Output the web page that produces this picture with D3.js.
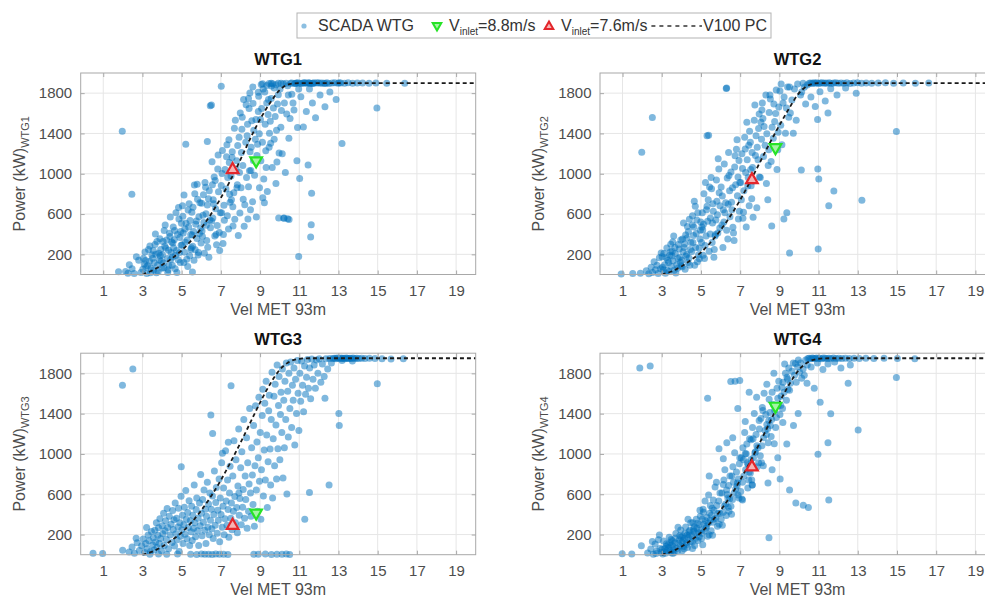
<!DOCTYPE html>
<html>
<head>
<meta charset="utf-8">
<script src="https://cdn.jsdelivr.net/npm/d3@7"></script>
<style>
  html, body { margin: 0; padding: 0; background: #fff; overflow: hidden; }
  svg { display: block; font-family: "Liberation Sans", Arial, Helvetica, sans-serif; }
</style>
</head>
<body>
<svg id="chart" width="985" height="601"></svg>
<script>
// ---- axes ----
const speedTicks = [1, 3, 5, 7, 9, 11, 13, 15, 17, 19];
const powerTicks = [200, 600, 1000, 1400, 1800];
const turbines = ["WTG1", "WTG2", "WTG3", "WTG4"];

// ---- V100 reference power curve as drawn in each panel (kW vs m/s) ----
const pcSpeed  = [3, 3.5, 4, 4.5, 5, 5.5, 6, 6.5, 7, 7.5, 8, 8.5, 9, 9.5, 10, 10.5, 11, 11.5, 12, 13, 14, 15, 16, 17, 18, 19, 20];
const pcPower1 = [0, 40, 95, 160, 240, 340, 460, 600, 760, 940, 1140, 1350, 1540, 1700, 1830, 1890, 1900, 1900, 1900, 1900, 1900, 1900, 1900, 1900, 1900, 1900, 1900];
const pcPower2 = [0, 30, 80, 145, 220, 320, 440, 580, 740, 920, 1110, 1300, 1480, 1650, 1800, 1880, 1900, 1900, 1900, 1900, 1900, 1900, 1900, 1900, 1900, 1900, 1900];
const pcPower34 = [0, 30, 80, 145, 220, 320, 440, 580, 740, 920, 1110, 1310, 1510, 1690, 1835, 1915, 1945, 1950, 1950, 1950, 1950, 1950, 1950, 1950, 1950, 1950, 1950];

// ---- inlet-speed operating points, one per turbine ----
const inletHigh = 8.8;   // green marker
const inletLow  = 7.6;   // red marker
const powerAtHigh = [1130, 1260, 415, 1475];
const powerAtLow  = [1050, 950, 300, 880];

// ---- SCADA samples [wind speed m/s, power kW] ----
const wtg1 = [
[2.14,31],[2.58,9],[2.33,97],[2.81,142],[2.47,58],[2.92,19],[2.69,176],[2.26,12],
[3.27,88],[3.05,161],[3.41,17],[3.13,224],[3.36,132],[3.02,52],[3.48,196],[3.19,71],[3.31,247],[3.09,104],[3.44,61],[3.22,9],[3.38,283],[3.16,138],
[3.83,212],[3.57,44],[3.96,131],[3.64,297],[3.71,18],[3.89,356],[3.52,162],[3.77,92],[3.93,248],[3.6,117],[3.68,201],[3.99,62],[3.74,327],[3.86,144],[3.55,238],[3.8,28],[3.66,402],[3.91,187],
[4.23,342],[4.07,113],[4.46,218],[4.31,47],[4.14,281],[4.38,409],[4.02,196],[4.27,158],[4.49,322],[4.11,436],[4.35,86],[4.19,262],[4.42,571],[4.05,328],[4.29,19],[4.44,149],[4.16,492],[4.33,241],[4.09,67],[4.4,376],
[4.74,238],[4.57,472],[4.93,119],[4.62,346],[4.86,551],[4.53,173],[4.79,398],[4.67,58],[4.97,291],[4.71,612],[4.55,312],[4.89,217],[4.64,437],[4.82,146],[4.99,508],[4.59,263],[4.76,21],[4.91,367],[4.69,188],[4.84,664],[4.52,92],[4.95,428],
[5.28,342],[5.06,578],[5.41,187],[5.17,452],[5.49,266],[5.11,118],[5.33,641],[5.02,294],[5.22,508],[5.46,398],[5.14,221],[5.38,702],[5.08,412],[5.26,152],[5.43,536],[5.19,319],[5.31,79],[5.04,682],[5.36,471],[5.47,248],[5.21,1294],[5.12,788],
[5.72,498],[5.56,281],[5.93,712],[5.61,427],[5.84,193],[5.52,618],[5.78,358],[5.67,801],[5.97,462],[5.63,141],[5.88,573],[5.54,392],[5.81,746],[5.69,246],[5.91,407],[5.58,667],[5.75,532],[5.99,312],[5.65,889],[5.86,219],[5.79,896],[5.55,24],
[6.24,602],[6.06,378],[6.41,832],[6.13,517],[6.33,271],[6.02,706],[6.47,463],[6.19,914],[6.28,338],[6.09,588],[6.37,751],[6.16,212],[6.44,541],[6.22,867],[6.04,431],[6.31,689],[6.39,172],[6.11,792],[6.26,488],[6.31,1321],
[6.73,652],[6.57,891],[6.92,418],[6.61,742],[6.84,1046],[6.53,532],[6.78,296],[6.66,968],[6.97,612],[6.69,381],[6.88,822],[6.55,1118],[6.81,487],[6.63,703],[6.94,239],[6.71,934],[6.59,561],[6.86,1187],[6.76,398],[6.52,1683],
[7.26,848],[7.04,612],[7.43,1112],[7.13,397],[7.35,962],[7.08,1231],[7.47,718],[7.18,538],[7.31,1287],[7.02,883],[7.39,452],[7.21,1042],[7.45,796],[7.11,308],[7.29,1168],[7.16,688],[7.41,1338],[7.06,1002],[7.33,583],[7.02,1868],
[7.78,1048],[7.54,742],[7.93,1362],[7.62,482],[7.84,892],[7.58,1218],[7.97,611],[7.69,1452],[7.81,1128],[7.52,978],[7.89,388],[7.66,812],[7.74,1532],[7.95,1012],[7.61,672],[7.86,1281],[7.71,549],[7.99,1602],[7.57,1161],[7.82,862],
[8.27,1312],[8.03,862],[8.44,1648],[8.12,1082],[8.38,552],[8.07,1442],[8.31,963],[8.49,1219],[8.16,1738],[8.22,692],[8.46,1031],[8.09,1562],[8.34,1378],[8.19,478],[8.41,872],[8.05,1212],[8.29,1684],[8.14,747],[8.36,1492],[8.48,1802],
[8.76,1342],[8.53,1032],[8.91,1618],[8.62,722],[8.84,1182],[8.58,1526],[8.97,862],[8.68,1432],[8.81,571],[8.55,1262],[8.93,1768],[8.72,984],[8.64,1698],[8.87,1292],[8.51,642],[8.79,1538],[8.66,1132],[8.96,1397],
[9.26,1492],[9.04,1128],[9.43,1738],[9.12,1312],[9.37,823],[9.08,1648],[9.31,1061],[9.48,1402],[9.16,1842],[9.22,712],[9.46,1262],[9.02,1538],[9.34,1702],[9.19,948],[9.41,1589],[9.06,1886],[9.29,1228],[9.14,762],
[9.77,1568],[9.54,1302],[9.93,1783],[9.62,1062],[9.84,1432],[9.58,1871],[9.97,1207],[9.68,1652],[9.81,902],[9.52,1521],[9.89,1692],[9.72,1342],[9.64,1893],[9.86,1117],[9.57,1748],[9.95,562],
[10.24,1702],[10.06,1462],[10.41,1873],[10.13,1198],[10.36,1592],[10.02,1842],[10.47,1352],[10.18,1894],[10.29,1012],[10.09,1628],[10.44,1781],[10.21,558],[10.33,1898],[10.48,546],
[10.73,1632],[10.56,1899],[10.91,1458],[10.62,1788],[10.84,1901],[10.53,1548],[10.97,1842],[10.68,1702],[10.88,1128],[10.77,1897],
[8.63,1862],[8.91,1808],[9.13,1893],[9.34,1876],[9.57,1898],[9.72,1852],[9.93,1899],[8.41,1748],[9.46,1896],[9.81,1884],[10.07,1899],[9.24,1812],
[11.03,1899],[11.19,1901],[11.11,1896],[11.26,1903],[11.38,1898],[11.31,1900],[11.47,1902],[11.58,1897],[11.52,1901],[11.67,1899],[11.76,1903],[11.71,1896],[11.89,1900],[11.97,1902],[12.08,1898],[12.16,1901],[12.27,1899],[12.41,1903],[12.52,1897],[12.68,1900],[12.81,1902],[12.97,1898],[13.12,1901],[13.31,1899],[13.49,1902],[13.72,1898],[13.96,1900],[14.23,1901],[14.56,1899],[14.91,1900],[15.46,1898],[16.38,1899],[10.62,1900],[10.81,1897],[10.93,1903],[12.33,1896],[13.04,1902],
[11.08,1764],[11.36,1618],[11.52,1842],[11.67,1703],[11.83,1557],[12.06,1781],[12.31,1664],[12.56,1812],[12.88,1738],[11.21,1463],[11.45,1087],[11.02,952],
[1.97,1422],[2.46,796],[14.96,1652],[13.18,1301],[10.97,178],[11.58,372],[11.61,493],[11.63,806],[6.46,1676],[1.78,28],[10.41,553],[10.22,561]
];

const wtg2 = [
[2.68,47],[2.21,38],[2.94,58],[2.46,71],[2.82,11],[2.61,126],[2.97,214],[2.34,8],[2.76,93],[2.53,19],[2.88,167],[0.93,6],[1.52,9],[1.91,12],
[3.31,142],[3.07,48],[3.44,227],[3.15,96],[3.38,31],[3.02,176],[3.26,264],[3.49,82],[3.11,208],[3.35,118],[3.19,12],[3.46,301],[3.23,167],[3.04,71],[3.41,192],[3.28,39],
[3.77,98],[3.54,231],[3.92,172],[3.63,42],[3.85,297],[3.58,136],[3.97,342],[3.69,208],[3.81,61],[3.52,184],[3.89,254],[3.72,14],[3.95,121],[3.61,381],[3.83,158],[3.67,267],[3.99,87],[3.56,322],
[4.27,198],[4.06,352],[4.43,91],[4.14,268],[4.36,427],[4.03,142],[4.48,318],[4.19,52],[4.31,476],[4.09,227],[4.39,163],[4.22,392],[4.46,247],[4.11,512],[4.34,118],[4.17,302],[4.41,548],[4.04,76],[4.29,362],[4.24,182],
[4.73,268],[4.56,492],[4.92,156],[4.62,387],[4.84,612],[4.53,228],[4.97,438],[4.68,91],[4.79,542],[4.59,318],[4.88,196],[4.71,678],[4.95,352],[4.64,471],[4.82,127],[4.57,582],[4.91,264],[4.76,408],[4.66,726],[4.99,522],
[5.26,382],[5.07,612],[5.42,231],[5.13,498],[5.37,742],[5.03,318],[5.48,562],[5.18,158],[5.31,678],[5.09,442],[5.44,868],[5.21,288],[5.34,528],[5.15,802],[5.47,402],[5.11,192],[5.39,1383],[5.28,642],[5.05,472],[5.23,912],
[5.76,542],[5.57,318],[5.93,812],[5.63,628],[5.86,412],[5.52,962],[5.97,682],[5.68,248],[5.81,728],[5.59,512],[5.91,1048],[5.72,382],[5.54,852],[5.84,592],[5.66,172],[5.96,462],[5.79,938],[5.61,702],[5.88,1148],[5.74,398],
[6.26,712],[6.07,492],[6.43,982],[6.14,642],[6.37,352],[6.03,868],[6.48,572],[6.19,1098],[6.31,438],[6.09,778],[6.41,1212],[6.22,612],[6.46,832],[6.12,268],[6.34,958],[6.29,1847],[6.17,522],[6.39,698],
[6.77,892],[6.58,642],[6.94,1132],[6.63,468],[6.86,782],[6.53,1018],[6.98,912],[6.69,338],[6.81,1242],[6.56,718],[6.91,552],[6.72,1068],[6.84,1338],[6.61,862],[6.96,628],[6.74,1178],[6.66,412],[6.89,968],
[7.28,1012],[7.06,742],[7.44,1282],[7.14,558],[7.36,1138],[7.03,912],[7.48,1422],[7.19,832],[7.31,472],[7.09,1198],[7.41,962],[7.23,1362],[7.46,682],[7.12,1052],[7.34,1512],[7.17,618],[7.39,878],[7.26,1246],
[7.78,1182],[7.56,882],[7.94,1448],[7.63,1062],[7.85,662],[7.52,1312],[7.97,1592],[7.68,928],[7.81,1378],[7.59,752],[7.91,1138],[7.72,1532],[7.54,1042],[7.87,1262],[7.66,568],[7.98,968],[7.75,1682],[7.61,1212],
[8.27,1282],[8.06,1512],[8.43,1082],[8.13,1702],[8.36,1398],[8.03,962],[8.48,1608],[8.19,1172],[8.31,1782],[8.09,1342],[8.41,742],[8.22,1468],[8.46,1238],[8.11,1632],[8.34,902],[8.16,1548],
[8.76,1518],[8.54,1742],[8.92,1238],[8.63,1462],[8.84,1832],[8.58,1122],[8.97,1662],[8.69,1352],[8.81,1598],[8.52,1782],[8.88,1042],[8.72,1692],[8.94,1412],[8.61,482],
[9.24,1762],[9.07,1482],[9.42,1862],[9.13,1288],[9.36,1652],[9.03,1822],[9.48,1562],[9.19,1702],[9.31,1402],[9.09,1892],[9.23,552],[9.38,612],
[9.77,1842],[9.56,1602],[9.93,1892],[9.64,1732],[9.86,1532],[9.52,1862],[10.08,1782],[10.21,1898],[10.34,1692],[10.42,1882],[10.14,1812],[9.71,1402],[10.12,1036],[10.27,1858],
[10.52,1898],[10.6,1901],[10.68,1897],[10.76,1903],[10.84,1899],[10.92,1902],[11.01,1896],[11.09,1900],[11.18,1903],[11.27,1898],[11.36,1901],[11.45,1899],[11.55,1902],[11.66,1897],[11.77,1900],[11.88,1903],[12.01,1898],[12.15,1901],[12.29,1899],[12.44,1902],[12.61,1897],[12.79,1900],[12.98,1903],[13.19,1898],[13.43,1901],[13.71,1899],[14.04,1900],[14.41,1902],[14.83,1898],[15.32,1900],[15.94,1899],[16.62,1901],
[10.61,1762],[10.83,1668],[11.07,1814],[11.34,1722],[11.62,1843],[11.94,1781],[12.38,1852],[12.92,1798],[11.48,1602],[10.95,1539],
[2.52,1558],[1.98,1213],[5.31,1378],[6.31,1852],[14.97,1419],[13.21,738],[10.98,252],[11.52,683],[11.78,829],[10.96,1048],[11.01,948],[9.52,213]
];

const wtg3 = [
[0.48,14],[0.97,11],[1.99,44],[3.38,5],[3.82,7],[4.24,4],[4.79,6],[5.46,4],[5.77,3],[6.01,6],[6.18,4],[6.37,5],[6.56,3],[6.74,6],[6.93,4],[7.14,5],[7.36,3],[8.68,5],[8.91,4],[9.27,6],[9.58,3],[9.86,5],[10.12,4],[10.34,6],[10.51,3],
[2.84,41],[2.32,28],[3.17,112],[2.59,14],[3.41,32],[2.96,88],[3.29,196],[2.47,76],[3.11,23],[2.73,118],[3.46,231],[3.04,157],[3.23,58],[2.68,163],[3.34,138],[3.21,271],
[3.89,356],[3.56,168],[4.29,271],[3.74,71],[4.11,91],[3.63,242],[4.37,382],[3.97,38],[4.18,336],[3.52,97],[4.04,208],[3.82,268],[4.46,302],[3.67,126],[4.26,458],[3.93,162],[4.08,412],[3.59,46],[4.33,58],[3.78,192],[4.15,238],[3.71,318],[4.41,196],[3.86,112],[4.22,152],[4.01,287],
[4.97,581],[4.54,438],[5.27,158],[4.71,207],[5.11,298],[4.61,348],[5.38,536],[4.87,31],[5.17,204],[4.51,122],[5.04,392],[4.81,276],[5.44,338],[4.64,86],[5.24,352],[4.94,183],[5.07,112],[4.57,251],[5.34,271],[4.77,148],[5.14,472],[4.67,512],[5.48,227],[4.91,318],[5.21,638],[4.74,362],[5.01,247],[5.41,92],[4.84,462],[5.31,418],
[6.11,322],[5.54,142],[5.97,796],[6.34,272],[5.71,178],[6.21,452],[5.61,262],[6.44,612],[5.84,362],[6.04,187],[5.51,482],[6.27,382],[5.77,563],[6.14,642],[5.64,692],[6.41,198],[5.91,512],[6.17,243],[5.57,391],[6.37,502],[5.81,238],[6.07,548],[5.67,318],[6.47,342],[5.94,288],[6.24,112],[5.74,448],[6.31,718],[5.87,92],[6.01,412],[6.49,1386],[6.58,1204],
[7.04,912],[6.54,258],[7.31,292],[6.77,668],[7.14,662],[6.61,162],[7.44,612],[6.91,752],[7.21,358],[6.67,832],[7.01,398],[6.84,442],[7.37,448],[6.51,452],[7.11,482],[6.94,128],[7.27,532],[6.71,292],[7.47,878],[6.81,212],[7.17,198],[6.57,582],[7.34,742],[6.97,562],[7.24,1032],[6.64,398],[7.41,172],[6.87,342],[7.07,272],[6.74,518],[7.08,1008],[7.38,1116],
[8.07,1022],[7.54,512],[8.31,1162],[7.77,942],[8.14,648],[7.61,782],[8.44,702],[7.94,392],[8.21,362],[7.67,1132],[8.01,862],[7.84,218],[8.37,912],[7.51,362],[8.11,472],[7.97,558],[8.27,548],[7.71,578],[8.47,1452],[7.81,468],[8.17,1342],[7.57,248],[8.34,262],[7.91,1248],[8.24,782],[7.64,432],[8.41,432],[7.87,682],[8.04,298],[7.74,318],[7.52,1678],[7.92,612],
[9.07,842],[8.54,382],[9.31,1722],[8.77,1478],[9.14,1642],[8.61,792],[9.44,1428],[8.91,962],[9.21,1038],[8.67,1282],[9.01,1212],[8.84,1118],[9.37,468],[8.51,612],[9.11,1382],[8.94,1562],[9.27,742],[8.71,282],[9.47,1582],[8.81,642],[9.17,582],[8.57,1062],[9.34,1188],[8.97,728],[9.24,1502],[8.64,498],[9.41,922],[8.87,432],[9.04,352],[8.74,882],
[10.07,1612],[9.54,692],[10.31,1342],[9.77,1692],[10.14,1842],[9.61,1812],[10.44,1168],[9.91,1052],[10.21,1532],[9.67,1152],[10.01,942],[9.84,752],[10.37,602],[9.51,1048],[10.11,1212],[9.94,1482],[10.27,1722],[9.71,1572],[10.47,1802],[9.81,1288],[10.17,762],[9.57,1342],[10.34,1902],[9.97,1768],[10.24,1062],[9.64,562],[10.41,1622],[9.87,1882],[10.04,1392],[9.74,882],
[10.94,1602],[10.52,1452],[11.22,1418],[10.69,1532],[11.07,1522],[10.56,1912],[11.37,1762],[10.81,1742],[11.17,1682],[10.61,1262],[10.98,1232],[11.32,1592],[10.73,1852],[11.12,1922],[10.86,1402],[11.47,1652],[10.65,1682],[11.03,1802],[10.9,1928],[11.27,1872],[10.77,1088],[11.42,1938],
[11.95,1802],[11.53,1852],[12.27,1768],[11.7,1742],[12.1,1712],[11.58,1548],[12.45,1842],[11.82,1652],[12.18,1892],[11.64,1942],[12.02,1946],[11.88,1932],[12.36,1944],[11.76,1882],[12.55,1948],[12.64,1902],
[12.71,1948],[12.79,1951],[12.86,1946],[12.93,1952],[13.01,1949],[13.08,1947],[13.14,1952],[13.21,1948],[13.27,1950],[13.33,1946],[13.39,1952],[13.45,1949],[13.52,1947],[13.59,1951],[13.66,1948],[13.74,1952],[13.83,1947],[13.93,1950],[14.04,1948],[14.18,1951],[14.35,1947],[14.58,1950],[14.86,1948],[15.22,1944],[15.68,1942],[16.31,1946],[13.18,1928],[13.71,1922],
[1.98,1682],[2.51,1842],[12.52,692],[11.28,352],[11.52,618],[14.98,1698],[13.02,1402],[13.04,1282],[12.31,1552],[4.98,872]
];

const wtg4 = [
[2.44,57],[0.98,9],[2.83,148],[2.28,18],[2.66,107],[1.47,6],[2.91,62],[2.57,4],[1.96,88],[2.74,36],[2.97,21],[2.52,132],[2.88,196],[2.71,12],
[3.27,42],[3.05,8],[3.41,118],[3.13,27],[3.36,71],[3.02,53],[3.48,152],[3.19,14],[3.31,96],[3.09,136],[3.44,38],[3.22,82],[3.38,172],[3.16,61],[3.46,22],[3.24,109],
[3.77,62],[3.54,138],[3.92,187],[3.63,21],[3.85,112],[3.58,78],[3.97,246],[3.69,164],[3.81,38],[3.52,96],[3.89,148],[3.72,211],[3.95,86],[3.61,52],[3.83,272],[3.67,119],[3.99,174],[3.56,12],
[4.27,102],[4.06,186],[4.43,242],[4.14,58],[4.36,168],[4.03,124],[4.48,318],[4.19,212],[4.31,72],[4.09,142],[4.41,196],[4.22,276],[4.46,128],[4.11,82],[4.34,352],[4.17,161],[4.39,228],[4.04,38],[4.29,192],[4.24,118],
[4.73,212],[4.56,128],[4.92,298],[4.62,252],[4.84,142],[4.53,188],[4.97,382],[4.68,92],[4.79,262],[4.59,318],[4.88,218],[4.71,162],[4.95,442],[4.64,232],[4.82,312],[4.57,62],[4.91,178],[4.76,352],[4.66,278],[4.99,248],
[5.26,262],[5.07,352],[5.42,198],[5.13,422],[5.37,312],[5.03,162],[5.48,488],[5.18,238],[5.31,368],[5.09,98],[5.44,412],[5.21,532],[5.34,182],[5.15,302],[5.47,342],[5.11,452],[5.28,282],[5.05,212],[5.39,592],[5.23,338],
[5.76,362],[5.57,462],[5.93,302],[5.63,542],[5.86,412],[5.52,238],[5.97,612],[5.68,352],[5.81,488],[5.59,192],[5.91,532],[5.72,672],[5.54,392],[5.84,282],[5.66,442],[5.96,412],[5.79,718],[5.61,322],
[6.26,502],[6.07,612],[6.43,432],[6.14,698],[6.37,562],[6.03,352],[6.48,782],[6.19,482],[6.31,642],[6.09,292],[6.41,688],[6.22,842],[6.46,552],[6.12,418],[6.34,598],[6.17,742],[6.39,472],[6.29,388],
[6.77,652],[6.58,782],[6.94,562],[6.63,872],[6.86,712],[6.53,482],[6.98,962],[6.69,612],[6.81,822],[6.56,402],[6.91,752],[6.72,1012],[6.84,682],[6.61,548],[6.96,902],[6.74,1722],[6.66,718],[6.89,592],
[7.28,842],[7.06,962],[7.44,742],[7.14,1062],[7.36,912],[7.03,628],[7.48,1152],[7.19,782],[7.31,1002],[7.09,552],[7.41,892],[7.23,1212],[7.46,822],[7.12,718],[7.34,1098],[7.17,942],[7.39,662],[7.26,1002],
[7.78,1022],[7.56,1142],[7.94,912],[7.63,1262],[7.85,1082],[7.52,812],[7.97,1332],[7.68,962],[7.81,1192],[7.59,742],[7.91,1062],[7.72,1402],[7.54,942],[7.87,872],[7.66,1152],[7.98,1248],[7.75,1012],[7.61,692],
[8.27,1232],[8.06,1352],[8.43,1112],[8.13,1462],[8.36,1292],[8.03,982],[8.48,1542],[8.19,1162],[8.31,1392],[8.09,912],[8.41,1252],[8.22,1602],[8.46,1332],[8.11,1082],[8.34,1192],[8.16,1432],
[8.76,1432],[8.54,1282],[8.92,1552],[8.63,1612],[8.84,1362],[8.58,1172],[8.97,1722],[8.69,1492],[8.81,1262],[8.52,1412],[8.88,1652],[8.72,1802],[8.94,1482],[8.61,1342],
[9.24,1612],[9.07,1482],[9.42,1742],[9.13,1662],[9.36,1532],[9.03,1392],[9.48,1852],[9.19,1712],[9.31,1802],[9.09,1572],[9.44,1642],[9.27,1892],[9.16,1452],[9.39,1762],
[9.77,1782],[9.56,1702],[9.93,1862],[9.64,1822],[9.86,1712],[9.52,1632],[10.08,1902],[10.21,1842],[10.34,1932],[10.42,1882],[10.14,1752],[9.71,1902],[9.97,1932],[10.27,1782],[9.82,1898],[10.03,1812],
[10.45,1948],[10.52,1951],[10.6,1946],[10.67,1952],[10.74,1949],[10.82,1947],[10.9,1952],[10.98,1948],[11.06,1950],[11.15,1946],[11.24,1952],[11.33,1949],[11.43,1947],[11.53,1951],[11.64,1948],[11.76,1952],[11.89,1947],[12.03,1950],[12.19,1948],[12.37,1951],[12.57,1947],[12.81,1950],[13.08,1948],[13.41,1951],[13.82,1947],[14.34,1950],[15.02,1948],[15.91,1946],
[10.62,1862],[10.94,1902],[11.22,1838],[11.48,1892],[11.82,1912],[12.14,1852],[12.62,1882],[10.41,1702],[10.78,1652],[11.08,1512],[9.96,1402],[9.72,1282],[9.38,1098],[8.92,962],
[8.42,712],[8.63,842],[9.04,752],[9.52,642],[9.84,512],[10.22,492],[10.48,468],[8.18,882],[7.62,692],[7.12,542],[6.32,1112],[6.88,1452],[7.46,1612],[5.92,1052],[6.62,1162],[7.26,1322],[7.84,1562],[5.42,782],[6.14,952],[8.36,1692],[8.74,1102],[9.18,1312],
[1.88,1852],[2.41,1872],[5.34,1552],[6.52,1718],[6.98,1728],[14.97,1758],[13.02,1238],[11.48,1112],[10.97,998],[11.52,542],[8.47,168],[12.51,1702],[11.62,1398]
];

const scada = [wtg1, wtg2, wtg3, wtg4];
const curves = [pcPower1, pcPower2, pcPower34, pcPower34];

// ---- drawing ----
const svg = d3.select("#chart");
const W = 395, H = 201.5;
const origins = [[80.7, 73], [600, 73], [80.7, 353.2], [600, 353.2]];

const x = d3.scaleLinear().domain([-0.15, 20]).range([0, W]);
const y = d3.scaleLinear().domain([0, 2000]).range([H, 0]);

const dotColor = "#0072BD";
const textColor = "#4d4d4d";
const redStroke = "#e3262b", redFill = "#f6b3b5";
const greenStroke = "#27e327", greenFill = "#a4f5a4";

const tri = d3.symbol().type(d3.symbolTriangle).size(58);
const triSmall = d3.symbol().type(d3.symbolTriangle).size(32);

turbines.forEach((name, i) => {
  const [ox, oy] = origins[i];
  const g = svg.append("g").attr("transform", `translate(${ox},${oy})`);

  // background + grid
  g.append("rect").attr("width", W).attr("height", H).attr("fill", "#fff");
  g.append("g").selectAll("line").data(speedTicks).join("line")
    .attr("x1", d => x(d)).attr("x2", d => x(d)).attr("y1", 0).attr("y2", H)
    .attr("stroke", "#e6e6e6").attr("stroke-width", 1);
  g.append("g").selectAll("line").data(powerTicks).join("line")
    .attr("y1", d => y(d)).attr("y2", d => y(d)).attr("x1", 0).attr("x2", W)
    .attr("stroke", "#e6e6e6").attr("stroke-width", 1);

  // SCADA scatter
  g.append("g").selectAll("circle").data(scada[i]).join("circle")
    .attr("cx", d => x(d[0])).attr("cy", d => y(d[1])).attr("r", 3.5)
    .attr("fill", dotColor).attr("fill-opacity", 0.5);

  // reference power curve
  const line = d3.line().x((d, k) => x(pcSpeed[k])).y(d => y(d)).curve(d3.curveMonotoneX);
  g.append("path").datum(curves[i]).attr("d", line)
    .attr("fill", "none").attr("stroke", "#1a1a1a").attr("stroke-width", 1.8)
    .attr("stroke-dasharray", "4,3");

  // operating points
  g.append("path").attr("d", tri)
    .attr("transform", `translate(${x(inletHigh)},${y(powerAtHigh[i])}) rotate(180)`)
    .attr("fill", greenFill).attr("stroke", greenStroke).attr("stroke-width", 2.2);
  g.append("path").attr("d", tri)
    .attr("transform", `translate(${x(inletLow)},${y(powerAtLow[i]) + 1})`)
    .attr("fill", redFill).attr("stroke", redStroke).attr("stroke-width", 2.2);

  // frame
  g.append("rect").attr("width", W).attr("height", H)
    .attr("fill", "none").attr("stroke", "#a8a8a8").attr("stroke-width", 1);

  // axes with inward ticks
  const xa = g.append("g").attr("transform", `translate(0,${H})`)
    .call(d3.axisBottom(x).tickValues(speedTicks).tickSize(-4).tickPadding(10.5).tickFormat(d3.format("d")));
  const xt = g.append("g")
    .call(d3.axisTop(x).tickValues(speedTicks).tickSize(-4).tickFormat(""));
  const ya = g.append("g")
    .call(d3.axisLeft(y).tickValues(powerTicks).tickSize(-4).tickPadding(8.5).tickFormat(d3.format("d")));
  const yr = g.append("g").attr("transform", `translate(${W},0)`)
    .call(d3.axisRight(y).tickValues(powerTicks).tickSize(-4).tickFormat(""));
  [xa, xt, ya, yr].forEach(a => {
    a.select(".domain").remove();
    a.selectAll(".tick line").attr("stroke", "#a8a8a8");
    a.selectAll(".tick text").attr("fill", textColor)
      .style("font-size", "15px").style("font-family", '"Liberation Sans", Arial, sans-serif');
  });

  // title
  g.append("text").attr("x", W / 2).attr("y", -8).attr("text-anchor", "middle")
    .style("font-size", "16.5px").style("font-weight", "bold").attr("fill", "#111").text(name);

  // x label
  g.append("text").attr("x", W / 2).attr("y", H + 40).attr("text-anchor", "middle")
    .style("font-size", "16px").attr("fill", textColor).text("Vel MET 93m");

  // y label with subscript
  const yl = g.append("text").attr("transform", `translate(-56,${H / 2}) rotate(-90)`)
    .attr("text-anchor", "middle").style("font-size", "16px").attr("fill", textColor);
  yl.append("tspan").text("Power (kW)");
  yl.append("tspan").attr("dy", 4).style("font-size", "11px").text(name);
});

// ---- legend ----
const lg = svg.append("g");
lg.append("rect").attr("x", 297).attr("y", 13).attr("width", 474).attr("height", 25)
  .attr("fill", "#fff").attr("stroke", "#b3b3b3").attr("stroke-width", 1);
const ly = 31;
lg.append("circle").attr("cx", 304).attr("cy", 26).attr("r", 2.6).attr("fill", dotColor).attr("fill-opacity", 0.45);
lg.append("text").attr("x", 318).attr("y", ly).style("font-size", "16px").attr("fill", "#333").text("SCADA WTG");

lg.append("path").attr("d", triSmall).attr("transform", "translate(437,25.5) rotate(180)")
  .attr("fill", greenFill).attr("stroke", greenStroke).attr("stroke-width", 2);
const t1 = lg.append("text").attr("x", 449).attr("y", ly).style("font-size", "16px").attr("fill", "#333");
t1.append("tspan").text("V");
t1.append("tspan").attr("dy", 4).style("font-size", "10px").text("inlet");
t1.append("tspan").attr("dy", -4).text(`=${inletHigh}m/s`);

lg.append("path").attr("d", triSmall).attr("transform", "translate(549,26.5)")
  .attr("fill", redFill).attr("stroke", redStroke).attr("stroke-width", 2);
const t2 = lg.append("text").attr("x", 561).attr("y", ly).style("font-size", "16px").attr("fill", "#333");
t2.append("tspan").text("V");
t2.append("tspan").attr("dy", 4).style("font-size", "10px").text("inlet");
t2.append("tspan").attr("dy", -4).text(`=${inletLow}m/s`);

const t2end = 561 + t2.node().getComputedTextLength();
const pcLabel = lg.append("text").attr("x", 767).attr("y", ly).attr("text-anchor", "end")
  .style("font-size", "16px").attr("fill", "#333").text("V100 PC");
const pcStart = 767 - pcLabel.node().getComputedTextLength();
lg.append("line").attr("x1", t2end + 4).attr("x2", pcStart - 1).attr("y1", 26).attr("y2", 26)
  .attr("stroke", "#333").attr("stroke-width", 1.6).attr("stroke-dasharray", "4,4");
</script>
</body>
</html>
